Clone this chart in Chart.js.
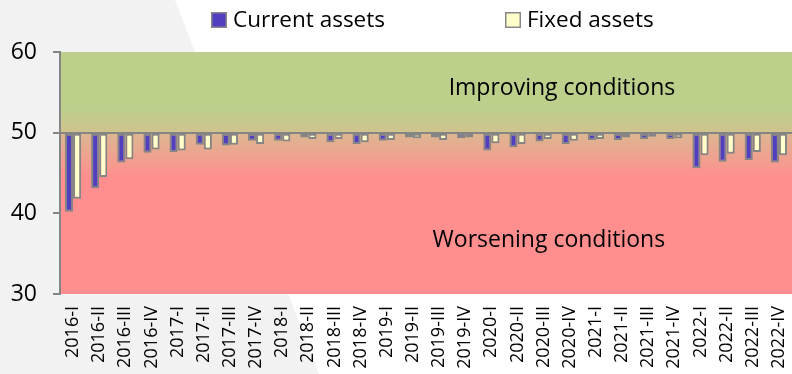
<!DOCTYPE html>
<html>
<head>
<meta charset="utf-8">
<script src="https://cdn.jsdelivr.net/npm/chart.js@4.4.1/dist/chart.umd.min.js"></script>
<style>
  html, body { margin: 0; padding: 0; background: #ffffff; }
  #wrap { width: 792px; height: 374px; position: relative; }
</style>
</head>
<body>
<div id="wrap"><canvas id="c" width="792" height="374"></canvas></div>
<script>
// Quarterly index values (50 = no change)
const categories = [
  '2016-I', '2016-II', '2016-III', '2016-IV',
  '2017-I', '2017-II', '2017-III', '2017-IV',
  '2018-I', '2018-II', '2018-III', '2018-IV',
  '2019-I', '2019-II', '2019-III', '2019-IV',
  '2020-I', '2020-II', '2020-III', '2020-IV',
  '2021-I', '2021-II', '2021-III', '2021-IV',
  '2022-I', '2022-II', '2022-III', '2022-IV'
];
const currentAssets = [
  40.2, 43.1, 46.3, 47.5,
  47.6, 48.5, 48.4, 49.0,
  49.0, 49.4, 48.8, 48.6,
  49.0, 49.4, 49.4, 49.3,
  47.8, 48.2, 48.9, 48.6,
  49.1, 49.1, 49.2, 49.2,
  45.6, 46.4, 46.6, 46.3
];
const fixedAssets = [
  41.8, 44.5, 46.7, 47.9,
  47.8, 47.9, 48.5, 48.6,
  48.9, 49.2, 49.2, 48.8,
  49.1, 49.3, 49.1, 49.4,
  48.7, 48.6, 49.2, 49.0,
  49.2, 49.4, 49.5, 49.3,
  47.2, 47.4, 47.6, 47.2
];
const yTicks = [30, 40, 50, 60];
const seriesNames = ['Current assets', 'Fixed assets'];
const zoneLabels = ['Improving conditions', 'Worsening conditions'];

const FONT = "'Open Sans', 'Noto Sans', sans-serif";
const BASELINE = 50;

// Page backdrop: white with a light grey wedge on the left
const backdrop = {
  id: 'backdrop',
  beforeDraw(chart) {
    const ctx = chart.ctx;
    ctx.save();
    ctx.fillStyle = '#ffffff';
    ctx.fillRect(0, 0, chart.width, chart.height);
    ctx.fillStyle = '#f2f2f2';
    ctx.beginPath();
    ctx.moveTo(0, 0);
    ctx.lineTo(175, 0);
    ctx.lineTo(319, chart.height);
    ctx.lineTo(0, chart.height);
    ctx.closePath();
    ctx.fill();

    // Plot area: green above the baseline, fading into red below it
    const a = chart.chartArea;
    const y = chart.scales.y;
    const h = a.bottom - a.top;
    const f = v => (y.getPixelForValue(v) - a.top) / h;
    const g = ctx.createLinearGradient(0, a.top, 0, a.bottom);
    g.addColorStop(0, '#bccf8b');
    g.addColorStop(f(53), '#bccf8b');
    g.addColorStop(f(50.05), '#d0c38e');
    g.addColorStop(f(49.95), '#dcb791');
    g.addColorStop(f(44.5), '#ff8f8f');
    g.addColorStop(1, '#ff8f8f');
    ctx.fillStyle = g;
    ctx.fillRect(a.left, a.top, a.right - a.left, h);
    ctx.restore();
  }
};

// Zone captions and the legend row
const captions = {
  id: 'captions',
  afterDatasetsDraw(chart) {
    const ctx = chart.ctx;
    const x = chart.scales.x;
    const y = chart.scales.y;
    ctx.save();
    ctx.fillStyle = '#000000';
    ctx.textAlign = 'center';
    ctx.textBaseline = 'middle';
    ctx.font = '23px ' + FONT;
    ctx.fillText(zoneLabels[0], x.getPixelForValue(18.7), y.getPixelForValue(55.5));
    ctx.fillText(zoneLabels[1], x.getPixelForValue(18.2), y.getPixelForValue(36.7));

    // legend
    const items = [
      { x: 211, color: '#5040c0' },
      { x: 505, color: '#ffffcc' }
    ];
    ctx.textAlign = 'left';
    ctx.font = '22.5px ' + FONT;
    items.forEach((it, i) => {
      ctx.fillStyle = it.color;
      ctx.fillRect(it.x, 12, 16, 16);
      ctx.strokeStyle = '#888888';
      ctx.lineWidth = 1.5;
      ctx.strokeRect(it.x + 0.75, 12.75, 14.5, 14.5);
      ctx.fillStyle = '#000000';
      ctx.fillText(seriesNames[i], it.x + 22, 21);
    });
    ctx.restore();
  }
};

const barStyle = {
  base: BASELINE,
  borderColor: '#858585',
  borderWidth: 2,
  borderSkipped: false,
  categoryPercentage: 0.62,
  barPercentage: 1.0
};

new Chart(document.getElementById('c'), {
  type: 'bar',
  data: {
    labels: categories,
    datasets: [
      Object.assign({ label: seriesNames[0], data: currentAssets, backgroundColor: '#5040c0' }, barStyle),
      Object.assign({ label: seriesNames[1], data: fixedAssets, backgroundColor: '#ffffcc' }, barStyle)
    ]
  },
  options: {
    responsive: false,
    animation: false,
    devicePixelRatio: 1,
    layout: { padding: { top: 52, left: 0, right: 0, bottom: 0 } },
    plugins: {
      legend: { display: false },
      tooltip: { enabled: false }
    },
    scales: {
      x: {
        offset: true,
        grid: { display: false, drawTicks: false },
        border: { display: false },
        ticks: {
          autoSkip: false,
          minRotation: 90,
          maxRotation: 90,
          padding: 12,
          color: '#000000',
          font: { family: FONT, size: 18 }
        },
        afterFit(s) {
          s.height = 80;
          s.paddingLeft = 0;
          s.paddingRight = 0;
        }
      },
      y: {
        min: 30,
        max: 60,
        afterBuildTicks(s) { s.ticks = yTicks.map(v => ({ value: v })); },
        grid: {
          drawOnChartArea: true,
          color: c => (c.tick && c.tick.value === BASELINE ? '#858585' : 'rgba(0,0,0,0)'),
          lineWidth: 2,
          tickColor: '#858585',
          tickLength: 7
        },
        border: { display: true, color: '#858585', width: 2 },
        ticks: {
          padding: 16,
          color: '#000000',
          font: { family: FONT, size: 23 }
        },
        afterFit(s) { s.width = 60; }
      }
    }
  },
  plugins: [backdrop, captions]
});
</script>
</body>
</html>
